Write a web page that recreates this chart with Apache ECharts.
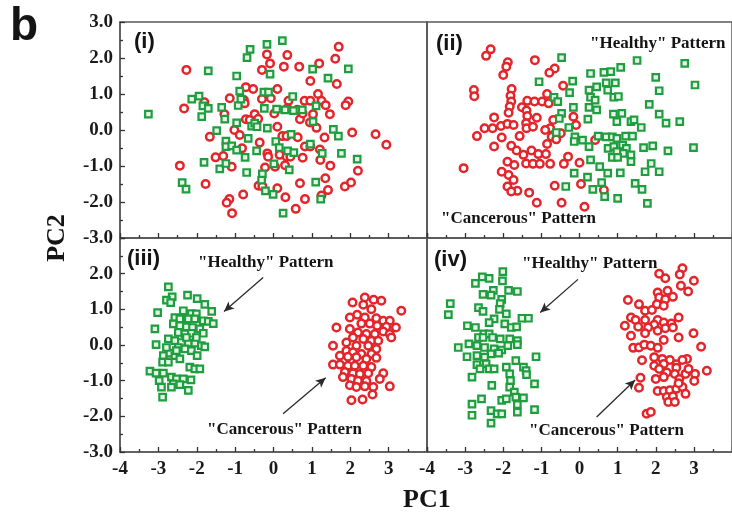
<!DOCTYPE html>
<html>
<head>
<meta charset="utf-8">
<script src="https://cdn.jsdelivr.net/npm/echarts@6/dist/echarts.min.js"></script>
<style>html,body{margin:0;padding:0;background:#fff;}#c{width:732px;height:519px;}</style>
</head>
<body>
<div id="c"></div>
<script>
// ---- data (PC1, PC2) ----
var xTicks = [-4, -3, -2, -1, 0, 1, 2, 3];
var yTicks = [-3.0, -2.0, -1.0, 0.0, 1.0, 2.0, 3.0];

var p1Red = [[1.70,2.31],[-2.27,1.67],[-0.17,2.10],[0.36,2.08],[-0.09,1.85],[0.27,1.76],[0.67,1.76],[1.19,1.85],[1.61,1.98],[-0.30,1.67],[0.96,1.36],[1.65,1.28],[-0.72,1.19],[-0.53,1.14],[0.10,1.14],[-1.80,0.77],[-2.33,0.60],[-1.14,0.88],[-0.77,0.83],[-0.75,0.74],[-0.30,0.86],[-0.07,0.88],[0.39,0.81],[0.36,0.60],[0.81,0.81],[0.96,0.81],[1.16,1.00],[1.25,0.81],[1.36,0.69],[1.95,0.79],[1.88,0.69],[-1.28,0.44],[-0.72,0.30],[-0.49,0.44],[-0.62,0.28],[-0.40,0.31],[0.02,0.46],[0.62,0.56],[0.69,0.30],[0.76,0.46],[0.95,0.21],[1.03,0.44],[1.12,0.06],[1.47,0.44],[-1.02,0.00],[-0.88,-0.14],[0.10,0.09],[0.23,-0.17],[0.34,-0.17],[0.63,-0.20],[1.33,-0.21],[2.05,-0.07],[2.66,-0.12],[2.94,-0.41],[-1.66,-0.19],[-0.82,-0.51],[-0.36,-0.35],[0.82,-0.46],[0.96,-0.46],[1.21,-0.54],[-1.51,-0.76],[-1.31,-0.72],[-1.09,-1.02],[-0.16,-0.65],[-0.14,-0.74],[0.16,-0.69],[0.34,-0.74],[0.44,-0.74],[0.76,-0.77],[1.22,-0.83],[-0.22,-1.04],[0.04,-1.02],[0.30,-0.98],[1.48,-0.99],[2.20,-1.13],[-2.44,-0.99],[-1.77,-1.50],[-0.39,-1.55],[-0.29,-1.56],[0.10,-1.62],[0.69,-1.48],[1.35,-1.34],[1.42,-1.67],[1.25,-1.82],[1.86,-1.57],[2.02,-1.46],[-0.79,-1.79],[-1.15,-1.92],[-1.22,-2.02],[0.31,-1.87],[0.82,-1.92],[0.58,-2.19],[-1.08,-2.31]];
var p1Green = [[0.23,2.48],[-0.17,2.38],[-0.61,2.24],[-0.69,2.01],[-0.09,1.55],[-1.70,1.64],[-0.96,1.50],[1.02,1.69],[1.42,1.44],[1.95,1.70],[-0.88,1.08],[-0.25,1.05],[-0.13,1.05],[0.50,0.93],[-2.13,0.86],[-1.94,0.94],[-1.84,0.67],[-1.70,0.60],[-1.87,0.37],[-1.35,0.63],[-1.27,0.30],[-0.92,0.68],[-0.85,0.86],[-0.96,0.20],[-0.24,0.60],[0.08,0.58],[0.30,0.56],[0.52,0.54],[0.75,0.56],[1.11,0.67],[-3.26,0.44],[-1.48,-0.02],[-0.57,0.11],[-0.49,0.19],[-0.16,0.05],[-0.43,0.09],[0.46,-0.12],[1.03,0.23],[1.56,0.02],[1.69,-0.17],[-1.24,-0.31],[-1.24,-0.46],[-1.09,-0.44],[-0.96,-0.56],[-0.66,-0.23],[0.06,-0.32],[0.15,-0.49],[0.37,-0.58],[0.53,-0.63],[0.96,-0.39],[1.27,-0.65],[1.77,-0.65],[2.18,-0.81],[-1.81,-0.90],[-1.40,-1.08],[-1.24,-0.93],[-0.74,-0.76],[-0.44,-0.58],[0.01,-0.94],[0.41,-1.11],[-0.70,-1.18],[-0.29,-1.22],[-0.31,-1.39],[-2.38,-1.46],[-2.28,-1.64],[-0.21,-1.69],[-0.01,-1.79],[1.10,-1.45],[1.23,-1.92],[0.25,-2.31]];

var p2Red = [[-2.33,2.24],[-2.45,2.06],[-1.88,1.88],[-1.92,1.76],[-1.17,1.94],[-0.65,1.71],[-0.79,1.59],[-2.00,1.53],[-2.77,1.11],[-2.76,0.94],[-1.78,1.14],[-1.81,0.95],[-1.79,0.79],[-1.83,0.65],[-1.86,0.48],[-1.51,0.63],[-1.37,0.81],[-1.18,0.79],[-0.98,0.79],[-0.85,1.00],[-0.43,1.23],[-0.81,0.74],[-1.39,0.54],[-1.37,0.39],[-1.12,0.34],[-1.40,0.19],[-0.69,0.28],[-0.16,0.37],[-0.09,0.14],[-0.77,0.05],[-2.24,0.35],[-2.49,0.05],[-2.28,0.05],[-2.06,0.11],[-1.89,0.17],[-1.73,0.14],[-1.39,0.05],[-1.22,0.09],[-0.90,0.00],[-0.49,-0.09],[-0.73,-0.19],[-2.69,-0.17],[-2.04,-0.21],[-1.57,-0.17],[-2.24,-0.46],[-1.79,-0.44],[-1.65,-0.57],[-1.47,-0.69],[-1.26,-0.57],[-1.08,-0.67],[-0.88,-0.67],[-0.85,-0.39],[-0.61,-0.26],[-0.30,-0.74],[0.00,-0.91],[-0.41,-0.94],[-1.89,-0.88],[-1.71,-0.97],[-2.04,-1.16],[-1.86,-1.25],[-1.40,-0.93],[-1.22,-0.94],[-1.04,-0.94],[-0.77,-0.94],[-3.04,-1.06],[-1.73,-1.39],[-1.89,-1.57],[-1.63,-1.69],[-1.79,-1.71],[-1.32,-1.74],[-0.65,-1.55],[0.04,-1.50],[0.64,-1.67],[-1.12,-2.02],[-0.47,-2.02],[0.13,-2.13],[0.41,-0.28]];
var p2Green = [[-0.47,2.01],[0.29,1.57],[0.64,1.60],[0.82,1.62],[1.08,1.74],[1.51,1.93],[2.76,1.85],[-1.06,1.34],[-0.18,1.36],[0.45,1.20],[0.25,1.11],[0.70,1.31],[0.94,1.31],[0.74,1.11],[0.90,0.91],[1.02,0.93],[-0.26,1.04],[-0.67,0.91],[-0.57,0.79],[0.29,0.91],[0.41,0.83],[0.25,0.63],[0.45,0.56],[2.00,1.46],[2.09,1.09],[3.03,1.25],[1.83,0.71],[-0.16,0.63],[-0.47,0.46],[-0.53,0.32],[0.22,0.30],[0.89,0.44],[1.11,0.46],[0.98,0.23],[1.35,0.23],[1.43,0.28],[1.62,0.07],[2.09,0.44],[2.27,0.19],[2.63,0.23],[-0.28,0.07],[-0.61,-0.07],[-0.12,-0.19],[0.08,-0.28],[-0.14,-0.32],[0.25,-0.46],[0.49,-0.17],[0.70,-0.19],[0.86,-0.19],[0.98,-0.23],[1.21,-0.17],[1.39,-0.17],[0.75,-0.51],[0.90,-0.46],[1.13,-0.42],[1.23,-0.51],[0.98,-0.60],[1.15,-0.65],[1.35,-0.69],[1.68,-0.49],[1.92,-0.44],[2.32,-0.58],[2.99,-0.49],[0.29,-0.83],[0.53,-1.02],[0.74,-1.20],[0.86,-0.76],[1.00,-0.76],[1.35,-0.88],[1.88,-0.93],[2.09,-1.16],[1.72,-1.16],[-0.14,-1.20],[1.07,-1.19],[0.21,-1.31],[0.58,-1.46],[-0.36,-1.57],[0.35,-1.65],[0.66,-1.85],[1.00,-1.90],[1.46,-1.48],[1.64,-1.65],[1.78,-2.04]];

var p3Green = [[-2.74,1.63],[-2.64,1.35],[-2.79,1.26],[-2.68,1.19],[-2.24,1.40],[-1.99,1.30],[-1.79,1.14],[-1.61,0.94],[-3.02,0.91],[-2.35,0.96],[-2.14,0.88],[-2.01,0.87],[-2.57,0.77],[-2.44,0.73],[-2.22,0.73],[-2.05,0.73],[-1.83,0.68],[-1.70,0.66],[-1.57,0.60],[-3.09,0.45],[-2.61,0.59],[-2.44,0.54],[-2.27,0.51],[-2.11,0.49],[-1.92,0.45],[-2.48,0.35],[-2.31,0.31],[-2.14,0.33],[-1.83,0.33],[-3.06,0.01],[-2.74,0.17],[-2.57,0.12],[-2.40,0.07],[-2.22,0.05],[-2.05,0.05],[-1.88,-0.02],[-1.79,-0.05],[-2.48,-0.07],[-2.31,-0.11],[-2.14,-0.16],[-2.87,-0.30],[-2.70,-0.23],[-2.57,-0.30],[-2.44,-0.39],[-1.99,-0.30],[-2.89,-0.48],[-2.74,-0.48],[-3.22,-0.73],[-3.06,-0.79],[-2.87,-0.79],[-2.18,-0.62],[-2.05,-0.67],[-1.92,-0.67],[-2.66,-0.90],[-2.53,-0.95],[-2.35,-0.95],[-2.15,-0.98],[-2.98,-1.00],[-2.61,-1.09],[-2.44,-1.11],[-2.92,-1.18],[-2.66,-1.18],[-2.22,-1.27],[-2.89,-1.46],[-2.53,-0.16],[-2.27,0.21],[-2.01,0.21],[-2.79,-0.07]];
var p3Red = [[2.38,1.33],[2.61,1.27],[2.81,1.24],[2.06,1.19],[2.34,1.13],[2.55,1.00],[3.33,0.96],[2.18,0.85],[1.99,0.77],[2.38,0.77],[2.68,0.75],[2.86,0.68],[3.03,0.68],[2.29,0.60],[2.51,0.60],[2.70,0.54],[2.94,0.51],[3.19,0.49],[1.64,0.49],[1.99,0.45],[2.20,0.35],[2.42,0.31],[2.64,0.31],[2.86,0.38],[3.03,0.31],[2.07,0.21],[2.34,0.17],[2.55,0.12],[2.73,0.12],[3.07,0.21],[1.55,-0.02],[1.90,0.07],[2.16,-0.02],[2.47,-0.02],[2.68,-0.11],[1.90,-0.16],[2.07,-0.20],[2.29,-0.25],[2.55,-0.25],[1.73,-0.30],[1.94,-0.33],[2.16,-0.34],[2.42,-0.39],[2.68,-0.36],[1.55,-0.55],[1.73,-0.55],[1.94,-0.58],[2.12,-0.58],[2.34,-0.58],[2.55,-0.62],[1.86,-0.76],[2.07,-0.79],[2.25,-0.81],[2.47,-0.79],[2.86,-0.79],[1.81,-0.90],[2.03,-0.95],[2.20,-1.00],[2.42,-1.01],[2.77,-0.95],[1.99,-1.13],[2.16,-1.18],[2.38,-1.16],[2.60,-1.18],[3.03,-1.16],[2.58,-1.39],[2.03,-1.55],[2.32,-1.53]];

var p4Green = [[-2.01,2.06],[-2.55,1.91],[-2.37,1.87],[-2.02,1.80],[-2.73,1.73],[-2.26,1.53],[-1.86,1.53],[-1.63,1.50],[-2.53,1.42],[-2.32,1.40],[-2.04,1.28],[-3.39,1.16],[-2.08,1.16],[-3.44,0.85],[-2.65,1.05],[-2.53,0.94],[-2.10,1.00],[-1.92,0.87],[-1.51,0.75],[-1.34,0.75],[-2.24,0.73],[-2.37,0.63],[-2.94,0.54],[-2.73,0.49],[-1.96,0.59],[-1.79,0.49],[-1.65,0.51],[-2.51,0.31],[-2.37,0.31],[-2.65,0.21],[-2.53,0.21],[-2.28,0.21],[-2.08,0.17],[-1.83,0.17],[-1.63,0.12],[-3.18,-0.07],[-2.90,0.03],[-2.69,-0.02],[-2.49,-0.07],[-2.24,-0.11],[-2.04,-0.14],[-1.88,-0.02],[-1.63,0.01],[-2.32,-0.25],[-2.12,-0.23],[-2.95,-0.33],[-2.69,-0.30],[-2.49,-0.34],[-1.67,-0.44],[-1.14,-0.33],[-2.69,-0.55],[-2.45,-0.53],[-2.61,-0.67],[-2.37,-0.67],[-2.24,-0.67],[-1.92,-0.62],[-1.47,-0.62],[-2.82,-0.90],[-1.83,-0.81],[-1.81,-1.00],[-1.40,-0.72],[-1.39,-0.83],[-2.30,-1.13],[-1.83,-1.18],[-1.71,-1.32],[-1.18,-1.09],[-2.57,-1.51],[-2.04,-1.55],[-1.92,-1.51],[-1.67,-1.46],[-1.47,-1.48],[-2.82,-1.66],[-1.63,-1.67],[-2.32,-1.84],[-2.16,-1.93],[-2.04,-1.93],[-1.18,-1.81],[-2.82,-1.97],[-1.63,-1.88],[-2.32,-2.19]];
var p4Red = [[2.70,2.15],[2.09,2.00],[2.25,1.87],[2.63,1.98],[3.00,1.80],[2.66,1.66],[2.85,1.50],[2.05,1.47],[2.31,1.52],[1.27,1.26],[1.56,1.14],[2.09,1.33],[2.25,1.28],[2.45,1.35],[2.03,1.14],[2.21,1.10],[1.72,0.96],[1.90,0.98],[1.35,0.77],[1.19,0.54],[1.47,0.70],[1.72,0.70],[2.05,0.70],[2.21,0.63],[2.41,0.60],[2.60,0.77],[1.96,0.57],[1.54,0.51],[1.80,0.49],[2.25,0.47],[2.45,0.49],[1.35,0.26],[1.72,0.33],[2.05,0.40],[2.99,0.33],[2.21,0.14],[2.60,0.21],[1.41,-0.08],[1.56,-0.07],[1.70,0.01],[1.87,-0.02],[2.05,-0.08],[3.19,-0.05],[1.64,-0.43],[1.96,-0.34],[2.17,-0.39],[2.37,-0.42],[2.54,-0.54],[2.82,-0.39],[2.70,-0.42],[1.96,-0.58],[2.21,-0.53],[2.09,-0.67],[2.29,-0.77],[2.54,-0.64],[2.78,-0.81],[3.03,-0.81],[3.34,-0.72],[1.60,-0.92],[2.00,-0.95],[2.21,-0.90],[2.50,-0.81],[2.62,-0.95],[3.01,-1.01],[1.56,-1.20],[2.05,-1.29],[2.21,-1.29],[2.37,-1.27],[2.54,-1.23],[2.70,-1.18],[2.78,-1.37],[2.29,-1.46],[2.45,-1.44],[2.33,-1.60],[2.50,-1.60],[1.76,-1.93],[1.87,-1.88],[2.60,-1.07],[2.86,-0.67]];

// arrows [start, end] in data coords
var p3Arrows = [[[-0.27,1.89],[-1.29,0.94]], [[0.25,-1.93],[1.36,-0.92]]];
var p4Arrows = [[[-0.04,1.84],[-1.03,0.91]], [[0.45,-2.02],[1.46,-0.98]]];

// ---- chart ----
var RED = '#e3262b', GREEN = '#1e9e3e', FRAME = '#5a5a5a';
var serifBold = '"Liberation Serif", "Times New Roman", serif';
var chart = echarts.init(document.getElementById('c'), null, {renderer: 'canvas'});

var grids = [
  {left: 120, top: 22, width: 307, height: 216},
  {left: 427, top: 22, width: 327, height: 216},
  {left: 120, top: 238, width: 307, height: 214},
  {left: 427, top: 238, width: 327, height: 214}
].map(function (g) {
  return Object.assign({show: true, borderColor: FRAME, borderWidth: 1.5, backgroundColor: 'transparent'}, g);
});

function xAx(i, labels) {
  return {
    type: 'value', gridIndex: i, min: xTicks[0], max: 4, interval: 1, position: 'bottom',
    axisLine: {show: true, onZero: false, lineStyle: {color: FRAME, width: 1.5}}, splitLine: {show: false},
    axisTick: {show: true, inside: true, length: 5, lineStyle: {color: '#333', width: 1.3}},
    minorTick: {show: true, splitNumber: 2, length: 3, lineStyle: {color: '#333', width: 1.3}},
    axisLabel: {show: labels, showMaxLabel: false, margin: 8, color: '#1a1a1a',
      fontFamily: serifBold, fontWeight: 'bold', fontSize: 19,
      formatter: function (v) { return xTicks.indexOf(v) >= 0 ? String(v) : ''; }}
  };
}
function yAx(i, labels, showMax) {
  return {
    type: 'value', gridIndex: i, min: yTicks[0], max: yTicks[yTicks.length - 1], interval: 1, position: 'left',
    axisLine: {show: true, onZero: false, lineStyle: {color: FRAME, width: 1.5}}, splitLine: {show: false},
    axisTick: {show: labels, inside: true, length: 5, lineStyle: {color: '#333', width: 1.3}},
    minorTick: {show: labels, splitNumber: 2, length: 3, lineStyle: {color: '#333', width: 1.3}},
    axisLabel: {show: labels, showMaxLabel: showMax, margin: 7, color: '#1a1a1a',
      fontFamily: serifBold, fontWeight: 'bold', fontSize: 19,
      formatter: function (v) { return v.toFixed(1); }}
  };
}

function circ(data, i) {
  return {type: 'scatter', xAxisIndex: i, yAxisIndex: i, data: data, symbol: 'circle', symbolSize: 7.5,
    itemStyle: {color: '#ffffff', borderColor: RED, borderWidth: 2.5, opacity: 1}, silent: true};
}
function sq(data, i, arrows) {
  var s = {type: 'scatter', xAxisIndex: i, yAxisIndex: i, data: data, symbol: 'rect', symbolSize: 6.5,
    itemStyle: {color: '#e8f6ea', borderColor: GREEN, borderWidth: 2.2, opacity: 1}, silent: true};
  if (arrows) {
    s.markLine = {
      silent: true, symbol: ['none', 'arrow'], symbolSize: [7, 10],
      label: {show: false},
      lineStyle: {color: '#2a2a2a', width: 1.3, type: 'solid'},
      emphasis: {disabled: true},
      data: arrows.map(function (a) { return [{coord: a[0]}, {coord: a[1]}]; })
    };
  }
  return s;
}

function txt(x, y, text, font, extra) {
  return Object.assign({type: 'text', x: x, y: y, silent: true,
    style: {text: text, font: font, fill: '#141414', align: 'left', verticalAlign: 'top'}}, extra || {});
}
var patFont = 'bold 17px ' + serifBold;
var tagFont = 'bold 22px "Liberation Sans", Arial, sans-serif';

chart.setOption({
  animation: false,
  backgroundColor: '#ffffff',
  grid: grids,
  xAxis: [xAx(0, false), xAx(1, false), xAx(2, true), xAx(3, true)],
  yAxis: [yAx(0, true, true), yAx(1, false, true), yAx(2, true, false), yAx(3, false, false)],
  series: [
    circ(p1Red, 0), sq(p1Green, 0),
    circ(p2Red, 1), sq(p2Green, 1),
    sq(p3Green, 2, p3Arrows), circ(p3Red, 2),
    sq(p4Green, 3, p4Arrows), circ(p4Red, 3)
  ],
  graphic: [
    txt(10, 4, 'b', 'bold 46px "Liberation Sans", Arial, sans-serif'),
    txt(134, 31, '(i)', tagFont),
    txt(436, 33, '(ii)', tagFont),
    txt(127, 248, '(iii)', tagFont),
    txt(434, 249, '(iv)', tagFont),
    txt(590, 35, '"Healthy" Pattern', patFont),
    txt(441, 210, '"Cancerous" Pattern', patFont),
    txt(198, 254, '"Healthy" Pattern', patFont),
    txt(207, 421, '"Cancerous" Pattern', patFont),
    txt(522, 255, '"Healthy" Pattern', patFont),
    txt(529, 422, '"Cancerous" Pattern', patFont),
    txt(403, 487, 'PC1', 'bold 26px ' + serifBold),
    {type: 'text', x: 57, y: 238, rotation: Math.PI / 2, silent: true,
      style: {text: 'PC2', font: 'bold 26px ' + serifBold, fill: '#141414', align: 'center', verticalAlign: 'middle'}}
  ]
});
</script>
</body>
</html>
